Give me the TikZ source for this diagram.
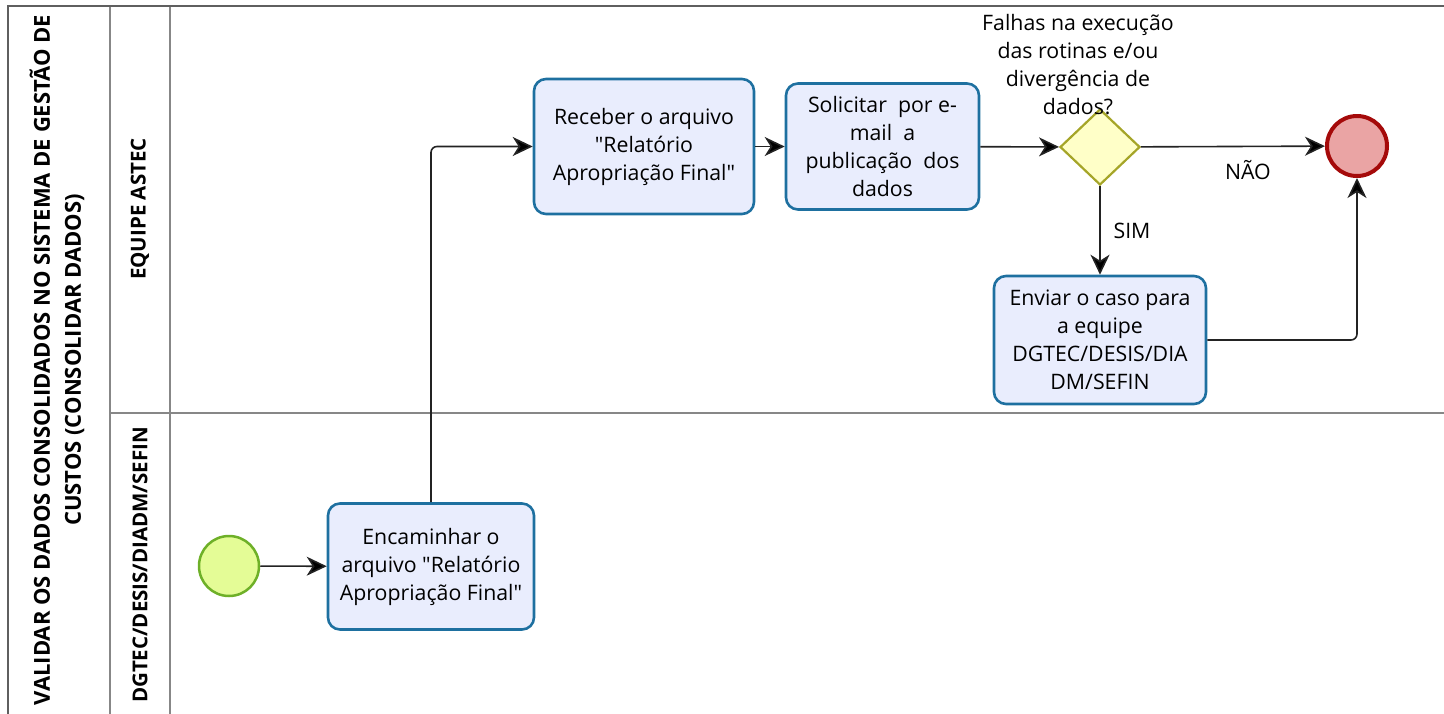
\documentclass[tikz,border=0pt]{standalone}
\usepackage{fontspec}
\setmainfont{Open Sans}[Ligatures=TeXOff]
\usetikzlibrary{arrows.meta,shapes.geometric}
\definecolor{taskfill}{RGB}{233,237,253}
\definecolor{taskborder}{RGB}{30,112,160}
\definecolor{startfill}{RGB}{228,252,150}
\definecolor{startborder}{RGB}{110,176,40}
\definecolor{gwfill}{RGB}{255,255,200}
\definecolor{gwborder}{RGB}{165,165,40}
\definecolor{endfill}{RGB}{234,164,164}
\definecolor{endborder}{RGB}{165,10,10}
\definecolor{flowcol}{RGB}{35,35,35}
\definecolor{outerline}{RGB}{95,95,95}
\definecolor{innerline}{RGB}{135,135,135}
\newcommand\dq{\symbol{34}}
\begin{document}
\begin{tikzpicture}[x=1pt,y=-1pt,
  bodyfont/.style={font=\fontsize{21.3}{28}\selectfont},
  task/.style={draw=taskborder, fill=taskfill, line width=2.6pt, rounded corners=12pt,
     align=center, inner sep=0pt, bodyfont},
  flow/.style={draw=flowcol, line width=1.6pt, rounded corners=6pt,
     -{Stealth[length=20pt,width=19pt,inset=6pt,fill=black]}},
  lanelabel/.style={rotate=90, align=center, inner sep=0pt,
     font=\fontsize{20.5}{31}\selectfont\bfseries},
  lbl/.style={inner sep=0pt, align=center, bodyfont}
]
\useasboundingbox (0,0) rectangle (1444,713);
\clip (0,0) rectangle (1444,713);
% pool frame
\draw[innerline, line width=1.6pt] (110,6) -- (110,720);
\draw[innerline, line width=1.6pt] (170,6) -- (170,720);
\draw[innerline, line width=1.6pt] (110,413) -- (1450,413);
\draw[outerline, line width=2.2pt] (1450,6) -- (8,6) -- (8,720);
% labels of pool and lanes
\node[lanelabel, font=\fontsize{22}{31}\selectfont\bfseries] (pool) at (57,360) {VALIDAR OS DADOS CONSOLIDADOS NO SISTEMA DE GESTÃO DE\\CUSTOS (CONSOLIDAR DADOS)};
\node[lanelabel] (lane1) at (140,209) {EQUIPE ASTEC};
\node[lanelabel] (lane2) at (140,565) {DGTEC/DESIS/DIADM/SEFIN};
% nodes
\node[circle, draw=startborder, fill=startfill, line width=2.5pt, minimum size=60pt, inner sep=0pt] (start) at (229,566) {};
\node[task, minimum width=206pt, minimum height=126pt] (enc) at (431,566.5) {Encaminhar o\\arquivo \dq Relatório\\Apropriação Final\dq};
\node[task, minimum width=220pt, minimum height=135pt] (rec) at (644,146.5) {Receber o arquivo\\\dq Relatório\\Apropriação Final\dq};
\node[task, minimum width=193pt, minimum height=126pt] (sol) at (882.5,146.5) {Solicitar\ \ por e-\\mail\ \ a\\publicação\ \ dos\\dados};
\node[diamond, draw=gwborder, fill=gwfill, line width=2.2pt, minimum width=80pt, minimum height=76pt, inner sep=0pt] (gw) at (1100,147) {};
\node[lbl] (q) at (1078,65) {Falhas na execução\\das rotinas e/ou\\divergência de\\dados?};
\node[circle, draw=endborder, fill=endfill, line width=4pt, minimum size=60pt, inner sep=0pt] (end) at (1357,146) {};
\node[task, minimum width=212pt, minimum height=128pt] (env) at (1100,340) {Enviar o caso para\\a equipe\\DGTEC/DESIS/DIA\\DM/SEFIN};
% flows
\draw[flow] (start) -- (enc);
\draw[flow] (enc.north) |- (rec.west);
\draw[flow] (rec) -- (sol);
\draw[flow] (sol) -- (gw);
\draw[flow] (gw) -- (end) node[lbl, pos=0.5, yshift=-24pt, xshift=15pt] (nao) {NÃO};
\draw[flow] (gw) -- (env) node[lbl, pos=0.5, xshift=32pt] (sim) {SIM};
\draw[flow] (env.east) -| (end.south);
\end{tikzpicture}
\end{document}
